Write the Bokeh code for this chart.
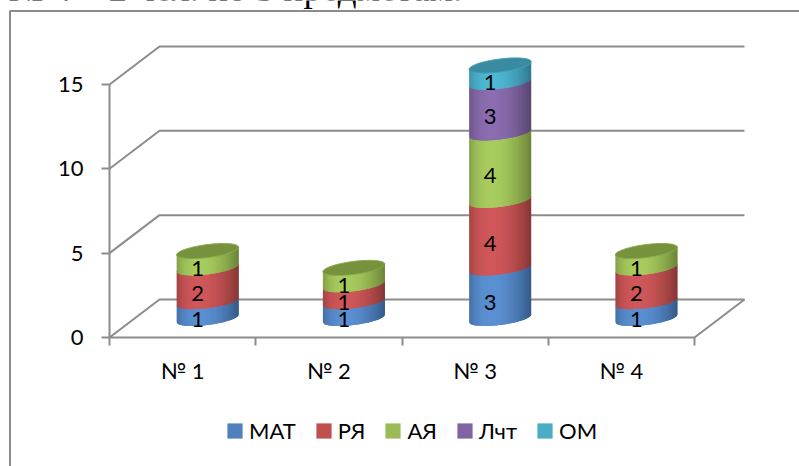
import numpy as np
from bokeh.embed import file_html
from bokeh.resources import INLINE
from bokeh.plotting import figure
from bokeh.core.properties import value
from bokeh.models import Range1d, FixedTicker, Legend, LegendItem, Label

categories = ["№ 1", "№ 2", "№ 3", "№ 4"]
series_names = ["МАТ", "РЯ", "АЯ", "Лчт", "ОМ"]
mat = [1, 1, 3, 1]
rya = [2, 1, 4, 2]
aya = [1, 1, 4, 1]
lcht = [0, 0, 3, 0]
om = [0, 0, 1, 0]
series_values = [mat, rya, aya, lcht, om]
y_ticks = [0, 5, 10, 15]
heading = "№ 4 – 2 чел. по 3 предметам."

legend_colors = ["#4F81BD", "#C0504D", "#9BBB59", "#8064A2", "#4BACC6"]
light_colors = ["#5A90D2", "#D0575A", "#A8CC5E", "#8B6DB0", "#4FB8D4"]
dark_colors = ["#345A88", "#853634", "#6B8339", "#574570", "#2F7890"]
top_colors = ["#3E6897", "#984240", "#76923C", "#64508A", "#3A8BA2"]

W, H = 799, 466
X0, Y0 = 109, 337               # page pixel of the value-axis / category-axis origin
PX_X, PX_Y = 146.25, 16.87      # pixels per category / per value
DX, DY = 50 / PX_X, 38 / PX_Y   # 3-D depth of the box
FONT = value("Lato")
GREY = "#8C8C8C"
x_lo, x_hi = -X0 / PX_X, (W - X0) / PX_X
y_lo, y_hi = -(H - Y0) / PX_Y, Y0 / PX_Y

p = figure(width=W, height=H, output_backend="svg", toolbar_location=None,
           x_range=Range1d(x_lo, x_hi), y_range=Range1d(y_lo, y_hi),
           min_border=0, min_border_left=0, min_border_right=0, min_border_top=0, min_border_bottom=0,
           background_fill_color="white", border_fill_color="white", outline_line_color=None)
p.styles = {"position": "absolute", "left": "0px", "top": "0px"}
p.grid.visible = False

# y axis
ya = p.yaxis[0]
ya.fixed_location = 0
ya.ticker = FixedTicker(ticks=y_ticks)
ya.bounds = (0, 15)
ya.axis_line_color = GREY
ya.axis_line_width = 2
ya.major_tick_line_color = GREY
ya.major_tick_line_width = 2
ya.major_tick_in = 0
ya.major_tick_out = 8
ya.minor_tick_line_color = None
ya.major_label_text_font = "Lato"
ya.major_label_text_font_size = "22px"
ya.major_label_text_color = "black"
ya.major_label_standoff = 18

# x axis
n = len(categories)
xa = p.xaxis[0]
xa.fixed_location = 0
xa.ticker = FixedTicker(ticks=[i + 0.5 for i in range(n)], minor_ticks=list(range(n + 1)))
xa.major_label_overrides = {i + 0.5: c for i, c in enumerate(categories)}
xa.bounds = (0, n)
xa.axis_line_color = GREY
xa.axis_line_width = 2
xa.major_tick_line_color = None
xa.minor_tick_line_color = GREY
xa.minor_tick_line_width = 2
xa.minor_tick_in = 0
xa.minor_tick_out = 8
xa.major_label_text_font = "Lato"
xa.major_label_text_font_size = "22px"
xa.major_label_text_color = "black"
xa.major_label_standoff = 11

# chart frame
frame_left = (9.5 - X0) / PX_X
frame_top = (Y0 - 10.5) / PX_Y
p.line([frame_left, frame_left, x_hi + 1], [y_lo - 1, frame_top, frame_top], line_color=GREY, line_width=2)

# gridlines and floor of the 3-D box
for v in y_ticks[1:]:
    p.line([0, DX, n + DX], [v, v + DY, v + DY], line_color=GREY, line_width=2)
p.line([0, DX, n + DX, n], [0, DY, DY, 0], line_color=GREY, line_width=2)

# cylinders
HALF = 31 / PX_X
B = 6.5 / PX_Y
K = 3.8 / PX_Y
STRIPS = 36
edges = np.linspace(-1, 1, STRIPS + 1)
OVER = 0.6 / PX_Y


def front(u):
    return K * u - B * np.sqrt(np.clip(1 - u * u, 0, 1))


def mix(c1, c2, t):
    a = [int(c1[i:i + 2], 16) for i in (1, 3, 5)]
    b = [int(c2[i:i + 2], 16) for i in (1, 3, 5)]
    return "#%02x%02x%02x" % tuple(round(x + (y - x) * t) for x, y in zip(a, b))


def shade(u, s):
    if u < -0.25:
        t = (-0.25 - u) / 0.75
        return mix(light_colors[s], dark_colors[s], (t ** 2.5) * 0.6)
    t = (u + 0.25) / 1.25
    return mix(light_colors[s], dark_colors[s], t ** 1.8)


label_x, label_y, label_t = [], [], []
for s, vals in enumerate(series_values):
    xs, ys, cs = [], [], []
    for i, v in enumerate(vals):
        if v == 0:
            continue
        cx = i + 0.5 + DX / 2
        base = sum(series_values[k][i] for k in range(s)) + DY / 2
        top = base + v
        for j in range(STRIPS):
            # each strip reaches under the next one, so that no seams show
            e0, e1 = edges[j], edges[min(j + 2, STRIPS)]
            us = np.linspace(e0, e1, 5)
            xu = cx + us * HALF
            xs.append(np.concatenate([xu, xu[::-1]]))
            ys.append(np.concatenate([top + OVER + front(us), (base + front(us))[::-1]]))
            cs.append(shade((edges[j] + edges[j + 1]) / 2, s))
        label_x.append(cx - 10 / PX_X)
        label_y.append(base + v / 2 - 9 / PX_Y)
        label_t.append(str(v))
    if xs:
        p.patches(xs, ys, fill_color=cs, line_color=None)

# top faces
ts = np.linspace(0, 2 * np.pi, 90)
for i in range(n):
    stack = [series_values[k][i] for k in range(len(series_values))]
    s = max(k for k, v in enumerate(stack) if v)
    cx = i + 0.5 + DX / 2
    cy = sum(stack) + DY / 2
    p.patch(cx + HALF * np.cos(ts), cy + K * np.cos(ts) + B * np.sin(ts),
            fill_color=top_colors[s], line_color=mix(top_colors[s], light_colors[s], 0.4), line_width=1)

p.text(label_x, label_y, text=label_t, text_font=FONT, text_font_size="22px", text_color="black",
       text_align="center", text_baseline="middle")

# legend
items = []
nan = float("nan")
for name, c in zip(series_names, legend_colors):
    r = p.quad(left=[nan], right=[nan], top=[nan], bottom=[nan], fill_color=c, line_color=None)
    items.append(LegendItem(label=value(name), renderers=[r]))
legend = Legend(items=items, orientation="horizontal", location=(225, 22),
                background_fill_alpha=0, border_line_color=None, glyph_width=19, glyph_height=19,
                label_standoff=5, spacing=18, padding=0, margin=0,
                label_text_font="Lato", label_text_font_size="22px", label_text_color="black")
p.add_layout(legend, "center")

# heading above the chart, cut by the top of the picture
p.add_layout(Label(x=8, y=H + 12, x_units="screen", y_units="screen", text=heading, text_font="Liberation Serif",
                   text_font_size="37px", text_color="black", text_baseline="alphabetic"))

open("out.html", "w").write(file_html(p, INLINE))
